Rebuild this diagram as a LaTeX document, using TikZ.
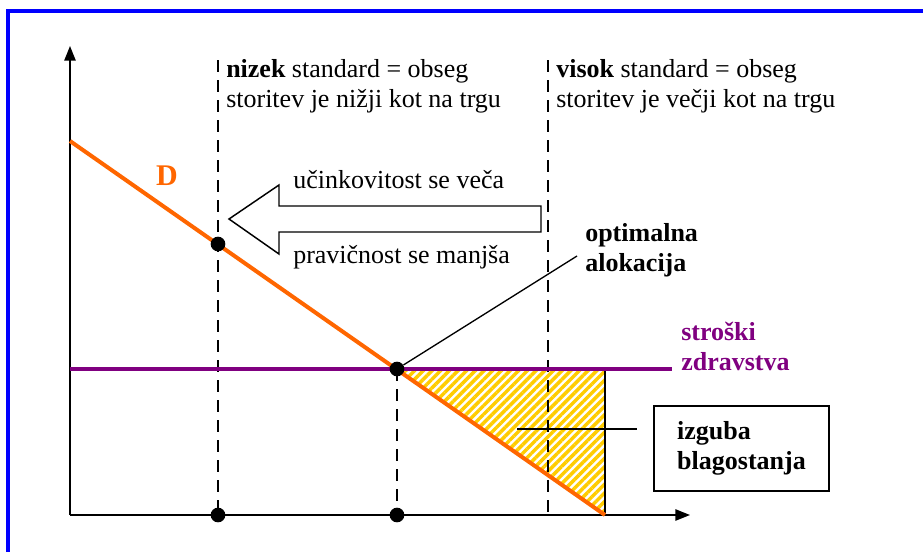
\documentclass[tikz,border=0pt]{standalone}
\usepackage{fontspec}
\setmainfont{Liberation Serif}
\usetikzlibrary{arrows.meta, positioning, patterns.meta}
\definecolor{frameblue}{RGB}{0,0,255}
\definecolor{demand}{RGB}{255,102,0}
\definecolor{costs}{RGB}{128,0,128}
\definecolor{hatch}{RGB}{255,204,0}

\begin{document}
\begin{tikzpicture}[x=0.75pt, y=-0.75pt,
    font=\fontsize{19.5}{22.5}\selectfont,
    axis/.style={line width=1.2pt, -{Triangle[length=11pt, width=8.5pt]}},
    guide/.style={line width=1.1pt, dash pattern=on 9pt off 6pt},
    dot/.style={circle, fill=black, inner sep=0pt, minimum size=11pt},
    lbl/.style={anchor=base west, inner sep=0pt, align=left}]
  \useasboundingbox (0,0) rectangle (923,551);
  \draw[frameblue, line width=2.5pt] (8,570) -- (8,11) -- (940,11);

  % axes
  \coordinate (o) at (70,515);
  \coordinate (ytip) at (70,46);
  \coordinate (xtip) at (690,515);

  % welfare loss triangle
  \coordinate (opt) at (397,369);
  \coordinate (cap) at (605,369);
  \coordinate (capbot) at (605,515);
  \fill[pattern={Lines[angle=45, distance=4.6pt, line width=2.6pt]},
        pattern color=hatch] (opt) -- (cap) -- (capbot) -- cycle;
  \draw[line width=0.9pt] (cap) -- (capbot);

  % standards
  \draw[guide] (218,60) -- (218,515);
  \draw[guide] (opt) -- (397,515);
  \draw[guide] (548,60) -- (548,515);

  \draw[axis] (o) -- (ytip);
  \draw[axis] (o) -- (xtip);

  % demand and costs
  \draw[demand, line width=3pt] (70,141) -- (capbot);
  \draw[costs, line width=3pt] (70,369) -- (672,369);
  \node[text=demand, font=\fontsize{22.5}{26}\selectfont\bfseries] (dlbl) at (167,176) {D};

  \node[dot] (dhigh) at (218,244) {};
  \node[dot] (dopt) at (opt) {};
  \node[dot] (xlow) at (218,515) {};
  \node[dot] (xopt) at (397,515) {};

  \node[lbl] (low) at (226,107) {\textbf{nizek} standard = obseg\\storitev je nižji kot na trgu};
  \node[lbl] (high) at (556,107) {\textbf{visok} standard = obseg\\storitev je večji kot na trgu};

  % shift of the standard
  \draw[line width=1.1pt] (229,219) -- (279,185) -- (279,206) -- (541,206)
    -- (541,232) -- (279,232) -- (279,254) -- cycle;
  \node[lbl] (eff) at (293,188) {učinkovitost se veča};
  \node[lbl] (fair) at (293,263) {pravičnost se manjša};

  \node[lbl, font=\fontsize{19.5}{22.5}\selectfont\bfseries] (alloc) at (585,271) {optimalna\\alokacija};
  \coordinate (allocend) at (577,256);
  \draw[line width=1pt] (dopt) -- (allocend);

  \node[lbl, text=costs, font=\fontsize{19.5}{22.5}\selectfont\bfseries] (cost) at (681,370) {stroški\\zdravstva};

  \node[draw, line width=1.1pt, minimum width=131pt, minimum height=64pt, align=left,
        font=\fontsize{19.5}{22.5}\selectfont\bfseries] (loss) at (741.5,448.5) {izguba\\blagostanja};
  \coordinate (losstip) at (517,429);
  \draw[line width=1pt, shorten >=12pt] (losstip) -- (losstip -| loss.west);
\end{tikzpicture}
\end{document}
